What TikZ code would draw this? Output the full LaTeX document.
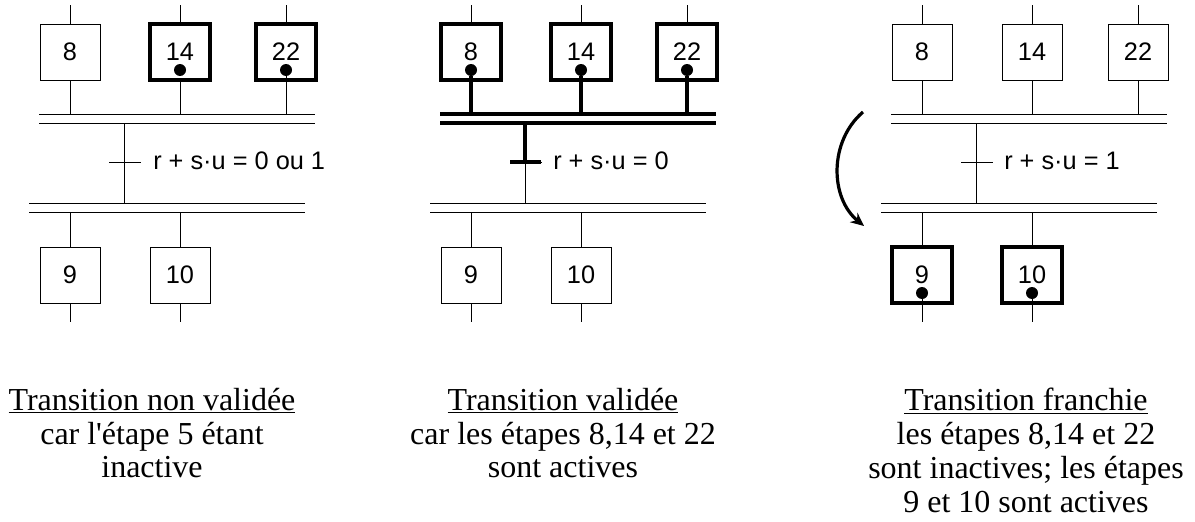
\documentclass[tikz,border=0pt]{standalone}
\usepackage{fontspec}
\setmainfont{Liberation Serif}
\setsansfont{Liberation Sans}
\usetikzlibrary{arrows.meta,positioning,calc}

\begin{document}
\begin{tikzpicture}[
    x=0.75pt, y=-0.75pt,
    etape/.style={
        rectangle, draw=black, line width=0.75pt, outer sep=0pt,
        minimum width=45pt, minimum height=42pt, inner sep=0pt,
        font=\sffamily\fontsize{19}{22}\selectfont
    },
    active/.style={line width=3.7pt},
    jeton/.style={circle, fill=black, inner sep=0pt, minimum size=9pt},
    lien/.style={line width=0.75pt},
    fort/.style={line width=3.6pt},
    recep/.style={anchor=west, inner sep=0pt, font=\sffamily\fontsize{19}{22}\selectfont},
    legende/.style={
        anchor=north, align=center, inner sep=0pt,
        font=\fontsize{24}{25.3}\selectfont
    },
    fleche/.style={-{Stealth[length=10pt, width=9pt]}, line width=2.4pt},
]

\useasboundingbox (0,0) rectangle (1195,521);

% etapes
\node[etape] (a8) at (70,52) {8};
\node[etape, active] (a14) at (180,52) {14};
\node[etape, active] (a22) at (286,52) {22};
\node[etape] (a9) at (70,275) {9};
\node[etape] (a10) at (180,275) {10};

\node[etape, active] (b8) at (471,52) {8};
\node[etape, active] (b14) at (581,52) {14};
\node[etape, active] (b22) at (687,52) {22};
\node[etape] (b9) at (471,275) {9};
\node[etape] (b10) at (581,275) {10};

\node[etape] (c8) at (922,52) {8};
\node[etape] (c14) at (1032,52) {14};
\node[etape] (c22) at (1138,52) {22};
\node[etape, active] (c9) at (922,275) {9};
\node[etape, active] (c10) at (1032,275) {10};

% jetons
\foreach \e in {a14, a22, b8, b14, b22, c9, c10}
  \node[jeton] (j\e) at ([yshift=7.5pt]\e.south) {};

% convergences / divergences en ET
\foreach \x/\p in {70/a, 471/b, 922/c} {
  \coordinate (\p H) at (\x,114);
  \coordinate (\p B) at (\x,212);
  \draw[lien] (\x-31,114) -- (\x+245,114) (\x-31,123) -- (\x+245,123);
  \draw[lien] (\x-41,203) -- (\x+235,203) (\x-41,212) -- (\x+235,212);
  \draw[lien] (\x+54,123) -- (\x+54,203);
  \draw[lien] (\x+39,162) -- (\x+71,162);
}

% liaisons
\foreach \e in {a8, a14, a22, b8, b14, b22, c8, c14, c22}
  \draw[lien] (\e.north) -- ++(0,-19);
\foreach \e/\p in {a8/a, a14/a, c8/c, c14/c, c22/c}
  \draw[lien] (\e.south) -- (\e.south |- \p H);
\draw[lien] (ja22) -- (ja22 |- aH);
\foreach \e in {b8, b14, b22}
  \draw[fort] (j\e) -- (j\e |- bH);
\foreach \e/\p in {a9/a, a10/a, b9/b, b10/b, c9/c, c10/c}
  \draw[lien] (\e.north) -- (\e.north |- \p B);
\foreach \e in {a9, a10, b9, b10}
  \draw[lien] (\e.south) -- ++(0,19);
\foreach \e in {c9, c10}
  \draw[lien] (j\e) -- ($(\e.south)+(0,19)$);

% transition validee
\draw[fort] (440,114) -- (716,114) (440,123) -- (716,123);
\draw[fort] (525,123) -- (525,162);
\draw[fort] (510,162) -- (541,162);

% receptivites
\node[recep] (ra) at (153,161) {r + s·u = 0 ou 1};
\node[recep] (rb) at (553,161) {r + s·u = 0};
\node[recep] (rc) at (1004,161) {r + s·u = 1};

% franchissement
\coordinate (fd) at (863,112);
\coordinate (fa) at (864,226);
\draw[fleche] (fd) to[bend right=50] (fa);

% legendes
\node[legende] (la) at (152,388) {\underline{Transition non validée}\\car l\textquotesingle étape 5 étant\\inactive};
\node[legende] (lb) at (563,388) {\underline{Transition validée}\\car les étapes 8,14 et 22\\sont actives};
\node[legende] (lc) at (1026,388) {\underline{Transition franchie}\\les étapes 8,14 et 22\\sont inactives; les étapes\\9 et 10 sont actives};

\end{tikzpicture}
\end{document}
